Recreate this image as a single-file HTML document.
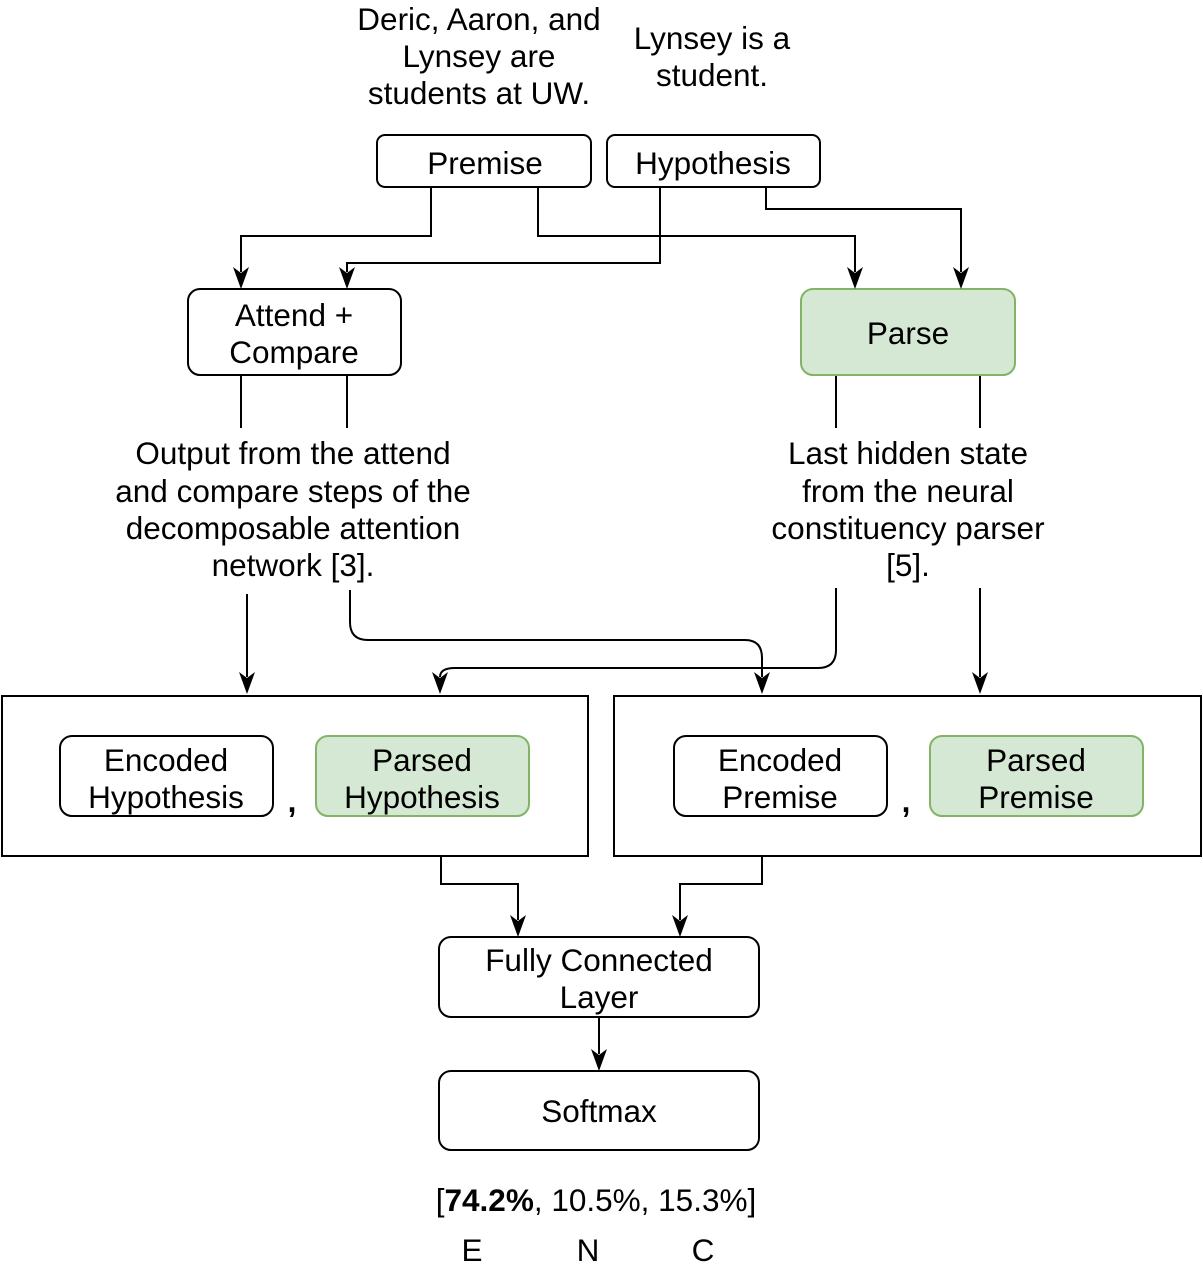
<!DOCTYPE html>
<html><head><meta charset="utf-8"><style>
html,body{margin:0;padding:0;background:#fff;}
svg text{font-family:"Liberation Sans",Helvetica,Arial,sans-serif;font-size:31.5px;fill:#000;}
</style></head><body>
<svg width="1203" height="1280" viewBox="0 0 1203 1280" xmlns="http://www.w3.org/2000/svg">
<g fill="none" stroke="#000" stroke-width="2">
<path d="M431 187V236H241V272"/>
<path d="M538 187V236H855V272"/>
<path d="M660 187V263H347V272"/>
<path d="M766 187V209H961V272"/>
<path d="M241 375V428M347 375V428M836 375V428M980 375V428"/>
<path d="M247 594V677"/>
<path d="M350 590V622Q350 640 368 640H745Q762 640 762 658V677"/>
<path d="M836 588V650Q836 668 818 668H455Q440 668 440 677"/>
<path d="M980 588V677"/>
<path d="M441 856V884H518V920"/>
<path d="M762 856V884H680V920"/>
<path d="M599 1017V1054"/>
<rect x="2" y="696" width="586" height="160"/>
<rect x="614" y="696" width="587" height="160"/>
<rect x="377" y="135" width="214" height="52" rx="8"/>
<rect x="607" y="135" width="213" height="52" rx="8"/>
<rect x="188" y="289" width="213" height="86" rx="12"/>
<rect x="60" y="736" width="213" height="80" rx="12"/>
<rect x="674" y="736" width="213" height="80" rx="12"/>
<rect x="439" y="937" width="320" height="80" rx="12"/>
<rect x="439" y="1071" width="320" height="79" rx="12"/>
</g>
<g fill="#d5e8d4" stroke="#82b366" stroke-width="2">
<rect x="801" y="289" width="214" height="86" rx="12"/>
<rect x="316" y="736" width="213" height="80" rx="12"/>
<rect x="930" y="736" width="213" height="80" rx="12"/>
</g>
<g fill="#000">
<path d="M241 289l-8-22 8 6 8-6z"/>
<path d="M855 289l-8-22 8 6 8-6z"/>
<path d="M347 289l-8-22 8 6 8-6z"/>
<path d="M961 289l-8-22 8 6 8-6z"/>
<path d="M247 694l-8-22 8 6 8-6z"/>
<path d="M440 694l-8-22 8 6 8-6z"/>
<path d="M762 694l-8-22 8 6 8-6z"/>
<path d="M980 694l-8-22 8 6 8-6z"/>
<path d="M518 937l-8-22 8 6 8-6z"/>
<path d="M680 937l-8-22 8 6 8-6z"/>
<path d="M599 1071l-8-22 8 6 8-6z"/>
</g>
<g text-anchor="middle">
<text x="479" y="30">Deric, Aaron, and</text>
<text x="479" y="67">Lynsey are</text>
<text x="479" y="104">students at UW.</text>
<text x="712" y="49">Lynsey is a</text>
<text x="712" y="86">student.</text>
<text x="485" y="174">Premise</text>
<text x="713" y="174">Hypothesis</text>
<text x="294" y="326">Attend +</text>
<text x="294" y="363">Compare</text>
<text x="908" y="344">Parse</text>
<text x="293" y="464">Output from the attend</text>
<text x="293" y="502">and compare steps of the</text>
<text x="293" y="539">decomposable attention</text>
<text x="293" y="576">network [3].</text>
<text x="908" y="464">Last hidden state</text>
<text x="908" y="502">from the neural</text>
<text x="908" y="539">constituency parser</text>
<text x="908" y="576">[5].</text>
<text x="166" y="771">Encoded</text>
<text x="166" y="808">Hypothesis</text>
<text x="422" y="771">Parsed</text>
<text x="422" y="808">Hypothesis</text>
<text x="780" y="771">Encoded</text>
<text x="780" y="808">Premise</text>
<text x="1036" y="771">Parsed</text>
<text x="1036" y="808">Premise</text>
<text x="292" y="812" font-weight="bold" font-size="36">,</text>
<text x="906" y="812" font-weight="bold" font-size="36">,</text>
<text x="599" y="971">Fully Connected</text>
<text x="599" y="1008">Layer</text>
<text x="599" y="1122">Softmax</text>
<text x="596" y="1211">[<tspan font-weight="bold">74.2%</tspan>, 10.5%, 15.3%]</text>
<text x="472" y="1261">E</text>
<text x="588" y="1261">N</text>
<text x="703" y="1261">C</text>
</g>
</svg>
</body></html>
